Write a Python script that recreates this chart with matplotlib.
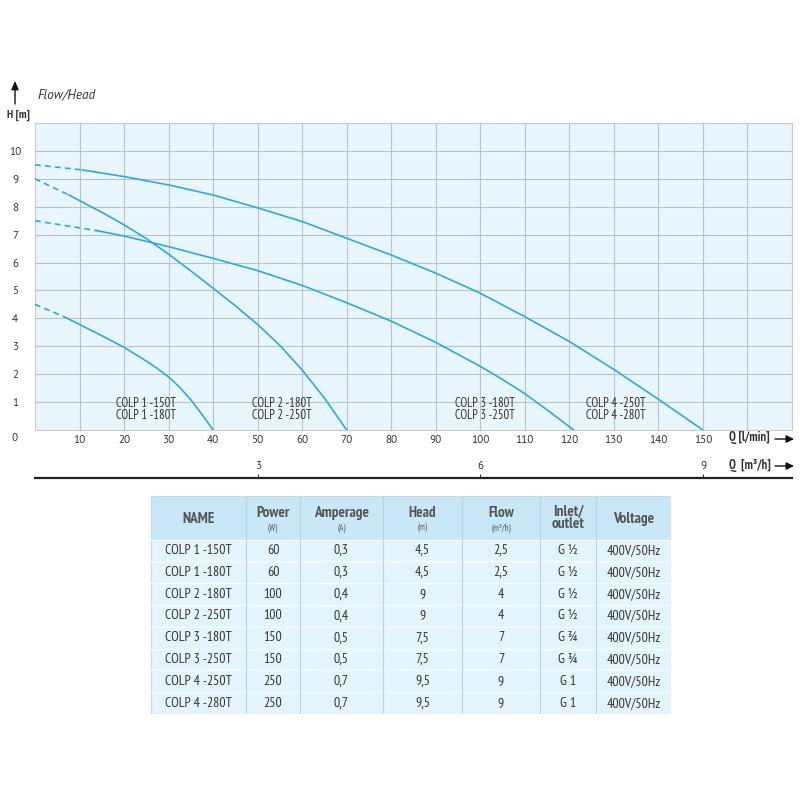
import matplotlib
matplotlib.use("Agg")
import matplotlib.pyplot as plt
from matplotlib.patches import Rectangle, FancyArrowPatch
import matplotlib.font_manager as fm

# ---------------- data ----------------
q1 = [0, 6.5, 10, 15, 20, 25, 27.5, 30, 32.5, 35, 37.5, 40]
h1 = [4.5, 4.06, 3.78, 3.38, 2.96, 2.47, 2.20, 1.90, 1.53, 1.08, 0.56, 0]
q2 = [0, 7.6, 10, 15, 20, 25, 30, 35, 40, 45, 50, 55, 60, 65, 70]
h2 = [9, 8.42, 8.22, 7.8, 7.35, 6.86, 6.30, 5.70, 5.08, 4.45, 3.78, 3.03, 2.15, 1.14, 0]
q3 = [0, 14, 20, 30, 40, 50, 60, 70, 80, 90, 100, 105, 110, 115, 121]
h3 = [7.5, 7.14, 6.95, 6.57, 6.15, 5.71, 5.18, 4.56, 3.90, 3.14, 2.28, 1.81, 1.30, 0.72, 0]
q4 = [0, 10.6, 20, 30, 40, 50, 60, 70, 80, 90, 100, 110, 120, 130, 140, 150]
h4 = [9.5, 9.32, 9.08, 8.78, 8.42, 7.96, 7.47, 6.87, 6.27, 5.62, 4.9, 4.06, 3.17, 2.17, 1.1, 0]
curve_labels = ["COLP 1 -150T\nCOLP 1 -180T", "COLP 2 -180T\nCOLP 2 -250T",
                "COLP 3 -180T\nCOLP 3 -250T", "COLP 4 -250T\nCOLP 4 -280T"]
label_q = [25, 55.5, 101, 130.5]
x_ticks_lmin = list(range(10, 151, 10))
x_ticks_m3h = [3, 6, 9]
y_ticks = list(range(1, 11))

table_headers = ["NAME", "Power", "Amperage", "Head", "Flow", "Inlet/\noutlet", "Voltage"]
table_units = ["", "(W)", "(A)", "(m)", "(m³/h)", "", ""]
names = ["COLP 1 -150T", "COLP 1 -180T", "COLP 2 -180T", "COLP 2 -250T",
         "COLP 3 -180T", "COLP 3 -250T", "COLP 4 -250T", "COLP 4 -280T"]
power = [60, 60, 100, 100, 150, 150, 250, 250]
amperage = [0.3, 0.3, 0.4, 0.4, 0.5, 0.5, 0.7, 0.7]
head = [4.5, 4.5, 9, 9, 7.5, 7.5, 9.5, 9.5]
flow = [2.5, 2.5, 4, 4, 7, 7, 9, 9]
inlet = ["G ½", "G ½", "G ½", "G ½", "G ¾", "G ¾", "G 1", "G 1"]
voltage = ["400V/50Hz"] * 8

# ---------------- fonts ----------------
fams = {f.name for f in fm.fontManager.ttflist}

def pick(prefs, default):
    for p in prefs:
        if p in fams:
            return p
    return default

COND = pick(["PT Sans Narrow", "Asap Condensed", "Roboto Condensed",
             "Fira Sans Condensed"], "DejaVu Sans")
REG = pick(["PT Sans", "Asap", "Open Sans"], "DejaVu Sans")
STRETCH = "condensed" if COND == "DejaVu Sans" else "normal"

def cf(**kw):
    d = dict(family=[COND, "DejaVu Sans"], fontstretch=STRETCH)
    d.update(kw)
    return d

plt.rcParams["font.family"] = [REG, "DejaVu Sans"]
CURVE = "#2aaae2"
GRID = "#b9c3ca"
TXT = "#333333"

fig = plt.figure(figsize=(8, 8), dpi=100)
W = H = 800.0

def fx(px):
    return px / W

def fy(py):
    return 1 - py / H

# ---------------- main chart ----------------
ax = fig.add_axes([fx(35), fy(430), fx(792 - 35), (430 - 123) / H])
ax.set_facecolor("#eaf6fd")
ax.set_xlim(0, 170)
ax.set_ylim(0, 11)
for v in range(10, 170, 10):
    ax.axvline(v, color=GRID, lw=0.8, zorder=1)
for v in range(1, 11):
    ax.axhline(v, color=GRID, lw=0.8, zorder=1)
for s in ax.spines.values():
    s.set_color("#c4ccd2")
    s.set_linewidth(0.8)

for q, h in [(q1, h1), (q2, h2), (q3, h3), (q4, h4)]:
    ax.plot(q[:2], h[:2], color=CURVE, lw=1.2, ls=(0, (3.5, 2.5)), zorder=3)
    ax.plot(q[1:], h[1:], color=CURVE, lw=1.2, zorder=3,
            solid_joinstyle="round")

for lab, qx in zip(curve_labels, label_q):
    ax.text(qx, 0.75, lab, ha="center", va="center", fontsize=9,
            color=TXT, linespacing=0.9, zorder=4, **cf())

ax.set_xticks(x_ticks_lmin)
ax.set_xticklabels([str(v) for v in x_ticks_lmin], fontsize=8, color=TXT)
ax.set_yticks(y_ticks)
ax.set_yticklabels([str(v) for v in y_ticks], fontsize=8, color=TXT)
ax.tick_params(axis="both", length=0)
ax.tick_params(axis="x", pad=3.5)
for t in ax.get_yticklabels():
    t.set_horizontalalignment("center")
ax.tick_params(axis="y", pad=14.4)
fig.text(fx(15), fy(438), "0", fontsize=8, color=TXT, ha="center", va="center")

# axis titles and arrows
fig.text(fx(729), fy(438), "Q [l/min]", fontsize=9, color=TXT, ha="left",
         va="center", **cf(fontweight="bold", style="italic"))
fig.text(fx(729), fy(466), "Q  [m³/h]", fontsize=9, color=TXT, ha="left",
         va="center", **cf(fontweight="bold", style="italic"))
for yy in (439, 466):
    fig.add_artist(FancyArrowPatch(
        (fx(775), fy(yy)), (fx(794), fy(yy)), transform=fig.transFigure,
        arrowstyle="-|>,head_length=4.5,head_width=2.2", color="#111111",
        lw=1.0, shrinkA=0, shrinkB=0))
fig.add_artist(FancyArrowPatch(
    (fx(15), fy(104)), (fx(15), fy(81)), transform=fig.transFigure,
    arrowstyle="-|>,head_length=5,head_width=2.2", color="#111111", lw=1.0,
    shrinkA=0, shrinkB=0))
fig.text(fx(37), fy(95), "Flow/Head", fontsize=9.5, style="italic",
         color=TXT, ha="left", va="center")
fig.text(fx(7), fy(115), "H [m]", fontsize=8.5, color=TXT, ha="left",
         va="center", **cf(fontweight="bold", style="italic"))

# secondary axis (m3/h)
ax2 = fig.add_axes([fx(35), fy(478), fx(792 - 35), 0.0001])
ax2.set_xlim(0, 170 * 0.06)
ax2.set_ylim(0, 1)
for k in ("left", "right", "bottom"):
    ax2.spines[k].set_visible(False)
ax2.spines["top"].set_linewidth(1.6)
ax2.spines["top"].set_color("#222222")
ax2.xaxis.tick_top()
ax2.set_xticks(x_ticks_m3h)
ax2.set_xticklabels([str(v) for v in x_ticks_m3h], fontsize=8, color=TXT)
ax2.tick_params(axis="x", direction="out", length=3, width=0.8, pad=2,
                colors=TXT)
ax2.set_yticks([])
ax2.patch.set_visible(False)

# ---------------- table ----------------
col_edges = [0, 95, 149, 232, 311, 389, 445, 520]   # px relative to table left
tab = fig.add_axes([fx(151), fy(714), fx(520), (714 - 496) / H])
tab.set_xlim(0, 520)
tab.set_ylim(10.0, 0)
tab.axis("off")
HEAD_BG = "#c9e8f7"
BODY_BG = "#e4f4fc"
tab.add_patch(Rectangle((0, 0), 520, 2.0, facecolor=HEAD_BG, edgecolor="none"))
tab.add_patch(Rectangle((0, 2.0), 520, 8.0, facecolor=BODY_BG, edgecolor="none"))
for r in range(2, 10):
    tab.plot([0, 520], [r, r], color="#f7fcff", lw=1.0)
for ce in col_edges[1:-1]:
    tab.plot([ce, ce], [0, 10], color="#bcd3de", lw=0.8)
tab.add_patch(Rectangle((0, 0), 520, 10.0, facecolor="none",
                        edgecolor="#c8dbe4", lw=0.8))

centers = [(col_edges[i] + col_edges[i + 1]) / 2 for i in range(len(col_edges) - 1)]
HDR = "#555555"
for c, hd, un in zip(centers, table_headers, table_units):
    if un:
        tab.text(c, 0.78, hd, ha="center", va="center", fontsize=11,
                 color=HDR, **cf(fontweight="bold"))
        tab.text(c, 1.5, un, ha="center", va="center", fontsize=6.5,
                 color=HDR, **cf())
    elif "\n" in hd:
        tab.text(c, 1.0, hd, ha="center", va="center", fontsize=11,
                 color=HDR, linespacing=0.85, **cf(fontweight="bold"))
    else:
        tab.text(c, 1.05, hd, ha="center", va="center", fontsize=11,
                 color=HDR, **cf(fontweight="bold"))

def fmt(v):
    return ("%g" % v).replace(".", ",")

for i in range(len(names)):
    row = [names[i], str(power[i]), fmt(amperage[i]), fmt(head[i]),
           fmt(flow[i]), inlet[i], voltage[i]]
    yc = 2 + i + 0.5
    for c, val in zip(centers, row):
        tab.text(c, yc, val, ha="center", va="center", fontsize=10,
                 color=TXT, **cf())

fig.savefig("out.png", dpi=100, facecolor="white")
